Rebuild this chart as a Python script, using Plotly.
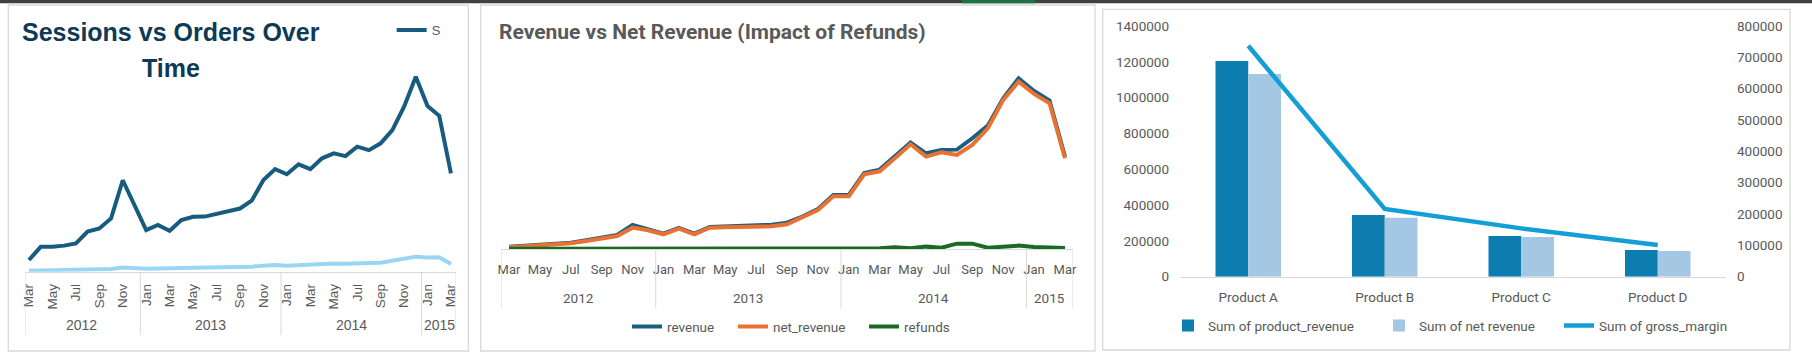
import plotly.graph_objects as go

W, H = 1812, 362

# ---------------- data ----------------
month_labels = ["Mar", "Apr", "May", "Jun", "Jul", "Aug", "Sep", "Oct", "Nov", "Dec",
                "Jan", "Feb", "Mar", "Apr", "May", "Jun", "Jul", "Aug", "Sep", "Oct", "Nov", "Dec",
                "Jan", "Feb", "Mar", "Apr", "May", "Jun", "Jul", "Aug", "Sep", "Oct", "Nov", "Dec",
                "Jan", "Feb", "Mar"]
year_labels = ["2012", "2013", "2014", "2015"]
year_sizes = [10, 12, 12, 3]

sessions = [1760, 3730, 3740, 3910, 4240, 6020, 6480, 7990, 13720, 10010,
            6240, 7010, 6140, 7760, 8240, 8270, 8640, 9010, 9480, 10660, 13740, 15390,
            14620, 16110, 15380, 17010, 17760, 17340, 18760, 18240, 19260, 21240, 24760, 29240,
            24860, 23390, 14740]
orders = [160, 190, 240, 250, 260, 340, 350, 410, 620, 460,
          440, 470, 450, 540, 580, 600, 610, 600, 620, 740, 910, 990,
          900, 1010, 1050, 1150, 1240, 1210, 1200, 1300, 1350, 1660, 1960, 2260,
          2130, 2150, 1150]

revenue = [2880, 3960, 5040, 6120, 7200, 9720, 12600, 15480, 26280, 21600,
           16920, 23040, 16920, 24120, 24840, 25200, 25920, 26640, 28800, 35280, 43560, 58680,
           58680, 82440, 86040, 100080, 115200, 103680, 107280, 107640, 119880, 133560, 163080, 184680,
           171000, 160560, 100080]
net_revenue = [2160, 3240, 4320, 5400, 6480, 9000, 11520, 14400, 23400, 20520,
               16200, 22320, 16200, 23400, 23760, 24120, 24480, 24840, 27000, 34200, 42480, 57240,
               57240, 81000, 84240, 98640, 113400, 100080, 104760, 101880, 112680, 130680, 161280, 181080,
               167760, 157680, 98280]
refunds = [720, 720, 720, 720, 720, 720, 720, 720, 1080, 1080,
           900, 900, 900, 900, 900, 900, 900, 900, 900, 1080, 1080, 1080,
           1080, 1080, 1080, 2160, 1080, 2880, 1800, 6120, 6120, 1800, 2520, 3960,
           2520, 1440, 1440]

products = ["Product A", "Product B", "Product C", "Product D"]
product_revenue = [1205000, 344700, 227400, 149100]
product_net_revenue = [1132000, 329600, 221800, 143600]
gross_margin = [737000, 216000, 154200, 101100]

# ---------------- helpers ----------------
def px(v):
    return v / W


def py(v):
    return 1 - v / H


GRAY = "#595959"
LINEGRAY = "#D9D9D9"
F1 = "Liberation Sans, Arial, sans-serif"
F2 = "Roboto, Liberation Sans, sans-serif"

idx = list(range(len(month_labels)))
tick_idx = idx[::2]
tick_txt = month_labels[::2]

# year group centres / boundaries from the group sizes
year_centres, year_bounds = [], []
start = 0
for s in year_sizes:
    year_centres.append(start + (s - 1) / 2)
    year_bounds.append(start - 0.5)
    start += s

fig = go.Figure()

# ---- panel 1 ----
fig.add_trace(go.Scatter(x=idx, y=sessions, mode="lines", name="S",
                         line=dict(color="#175C7E", width=4), xaxis="x", yaxis="y",
                         legend="legend"))
fig.add_trace(go.Scatter(x=idx, y=orders, mode="lines", name="orders", showlegend=False,
                         line=dict(color="#9AD6F3", width=4), xaxis="x", yaxis="y"))

# ---- panel 2 ----
fig.add_trace(go.Scatter(x=idx, y=revenue, mode="lines", name="revenue",
                         line=dict(color="#1B5E7F", width=4), xaxis="x2", yaxis="y2",
                         legend="legend2"))
fig.add_trace(go.Scatter(x=idx, y=net_revenue, mode="lines", name="net_revenue",
                         line=dict(color="#E97132", width=4), xaxis="x2", yaxis="y2",
                         legend="legend3"))
fig.add_trace(go.Scatter(x=idx, y=refunds, mode="lines", name="refunds",
                         line=dict(color="#196B24", width=4), xaxis="x2", yaxis="y2",
                         legend="legend4"))

# ---- panel 3 ----
fig.add_trace(go.Bar(x=products, y=product_revenue, name="Sum of product_revenue",
                     marker=dict(color="#0C7DAE", line=dict(width=0)), xaxis="x3", yaxis="y3",
                     legend="legend5"))
fig.add_trace(go.Bar(x=products, y=product_net_revenue, name="Sum of net revenue",
                     marker=dict(color="#A4C7E4", line=dict(width=0)), xaxis="x3", yaxis="y3",
                     legend="legend6"))
fig.add_trace(go.Scatter(x=products, y=gross_margin, mode="lines", name="Sum of gross_margin",
                         line=dict(color="#139ED6", width=4.5), xaxis="x3", yaxis="y4",
                         legend="legend7"))

# ---------------- axes ----------------
p1_range = [-0.341, 36.43]
p2_range = [-0.5, 36.5]

fig.update_layout(
    xaxis=dict(domain=[px(25), px(456)], range=p1_range, anchor="y", automargin=False,
               tickmode="array", tickvals=tick_idx, ticktext=tick_txt, tickangle=-90,
               tickfont=dict(family=F1, size=13.5, color=GRAY), ticks="",
               showline=True, linecolor=LINEGRAY, linewidth=1, showgrid=False, zeroline=False,
               ticklabelstandoff=6),
    yaxis=dict(domain=[py(271.7), py(58.4)], range=[0, 32000], visible=False, anchor="x",
               automargin=False),
    xaxis2=dict(domain=[px(501.3), px(1072.7)], range=p2_range, anchor="y2", automargin=False,
                tickmode="array", tickvals=tick_idx, ticktext=tick_txt, tickangle=0,
                tickfont=dict(family=F2, size=13, color=GRAY), ticks="",
                showline=True, linecolor=LINEGRAY, linewidth=1, showgrid=False, zeroline=False,
                ticklabelstandoff=8),
    yaxis2=dict(domain=[py(249.3), py(64.1)], range=[0, 200000], visible=False, anchor="x2",
                automargin=False),
    xaxis3=dict(domain=[px(1180), px(1726)], range=[-0.5, 3.5], anchor="y3", type="category",
                automargin=False,
                tickfont=dict(family=F2, size=13.5, color=GRAY), ticks="",
                showline=True, linecolor=LINEGRAY, linewidth=1, showgrid=False, zeroline=False,
                ticklabelstandoff=8),
    yaxis3=dict(domain=[py(276.7), py(26)], range=[0, 1400000], dtick=200000, anchor="x3",
                automargin=False,
                tickformat="d", tickfont=dict(family=F2, size=13.5, color=GRAY),
                showgrid=False, zeroline=False, showline=False, ticks="", ticklabelstandoff=10),
    yaxis4=dict(domain=[py(276.7), py(26)], range=[0, 800000], dtick=100000, anchor="x3",
                overlaying="y3", side="right", automargin=False,
                tickformat="d", tickfont=dict(family=F2, size=13.5, color=GRAY),
                showgrid=False, zeroline=False, showline=False, ticks="", ticklabelstandoff=10),
    barmode="group", bargap=0.52, bargroupgap=0,
)

# ---------------- legends (one per entry, placed like the reference) ----------------
def leg(x_text, y_c, size, family):
    return dict(x=px(x_text - 40), y=py(y_c), xanchor="left", yanchor="middle",
                orientation="h", bgcolor="rgba(0,0,0,0)", borderwidth=0,
                font=dict(family=family, size=size, color=GRAY), itemwidth=30)

fig.update_layout(
    legend=leg(431.7, 30, 13, F1),
    legend2=leg(667, 326.7, 13.5, F2),
    legend3=leg(773, 326.7, 13.5, F2),
    legend4=leg(904, 326.7, 13.5, F2),
    legend5=leg(1208, 325.7, 13.5, F2),
    legend6=leg(1419, 325.7, 13.5, F2),
    legend7=leg(1599, 325.7, 13.5, F2),
)

# ---------------- shapes ----------------
shapes = []
# top dark strip (spreadsheet header)
shapes.append(dict(type="rect", xref="paper", yref="paper", x0=0, x1=1, y0=py(3.3), y1=1,
                   fillcolor="#404040", line=dict(width=0), layer="above"))
shapes.append(dict(type="rect", xref="paper", yref="paper", x0=px(962), x1=px(1035), y0=py(3.3), y1=1,
                   fillcolor="#1E7145", line=dict(width=0), layer="above"))
# panel borders
for (x0, x1, y0, y1) in [(8.3, 468.3, 5, 351), (480.7, 1095, 5, 351), (1102.7, 1790, 9.3, 350)]:
    shapes.append(dict(type="rect", xref="paper", yref="paper", x0=px(x0), x1=px(x1),
                       y0=py(y1), y1=py(y0), line=dict(color=LINEGRAY, width=1.3),
                       fillcolor="rgba(0,0,0,0)", layer="below"))
# multi-level category separators
for xr, rng, ytop, ybot in [("x", p1_range, 271.7, 335), ("x2", p2_range, 249.3, 308.3)]:
    bounds = [rng[0]] + year_bounds[1:] + [rng[1]]
    for b in bounds:
        shapes.append(dict(type="line", xref=xr, yref="paper", x0=b, x1=b,
                           y0=py(ybot), y1=py(ytop), line=dict(color=LINEGRAY, width=1)))
fig.update_layout(shapes=shapes)

# ---------------- annotations ----------------
ann = []
TITLE1 = dict(family=F1, size=25, color="#0E3A55")
ann.append(dict(text="<b>Sessions vs Orders Over</b>", xref="paper", yref="paper",
                x=px(170.5), y=py(31.5), xanchor="center", yanchor="middle", showarrow=False,
                font=TITLE1))
ann.append(dict(text="<b>Time</b>", xref="paper", yref="paper",
                x=px(170.5), y=py(67.5), xanchor="center", yanchor="middle", showarrow=False,
                font=TITLE1))
ann.append(dict(text="<b>Revenue vs Net Revenue (Impact of Refunds)</b>", xref="paper", yref="paper",
                x=px(497), y=py(32), xanchor="left", yanchor="middle", showarrow=False,
                font=dict(family=F2, size=21, color=GRAY)))
for xr, yc, fam, sz in [("x", 325, F1, 14), ("x2", 297.7, F2, 13.5)]:
    for c, lab in zip(year_centres, year_labels):
        ann.append(dict(text=lab, xref=xr, yref="paper", x=c, y=py(yc), xanchor="center",
                        yanchor="middle", showarrow=False, font=dict(family=fam, size=sz, color=GRAY)))
fig.update_layout(annotations=ann)

fig.update_layout(width=W, height=H, margin=dict(l=0, r=0, t=0, b=0, pad=0, autoexpand=False),
                  paper_bgcolor="white", plot_bgcolor="rgba(0,0,0,0)", showlegend=True,
                  hovermode=False)

fig.write_html(
    "out.html",
    config={"displayModeBar": False, "responsive": False},
    post_script=(
        "document.documentElement.style.margin='0';"
        "document.documentElement.style.overflow='hidden';"
        "document.body.style.margin='0';document.body.style.padding='0';"
        "document.body.style.overflow='hidden';"
    ),
)
